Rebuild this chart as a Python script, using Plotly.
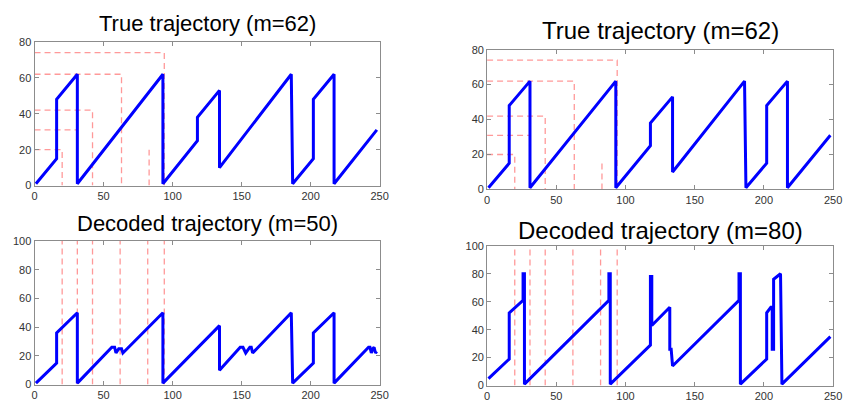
import plotly.graph_objects as go

# ---------------- data ----------------
# True trajectory (m=62), breakpoints (time, value)
true_t = [1, 16, 16, 31, 31, 93, 93, 118, 118, 134, 134, 186, 187, 202, 202, 217, 217, 248]
true_v = [1, 15, 48, 62, 1, 62, 1, 25, 38, 53, 10, 62, 1, 15, 48, 62, 1, 31]

# Decoded trajectory (m=50)
dec50_t = [1, 16, 16, 31, 31, 56, 58, 59, 61, 63, 64, 93, 93, 134, 134,
           149, 151, 153, 156, 157, 158, 186, 187, 202, 202, 217, 217,
           242, 243, 244, 245, 246, 247, 248]
dec50_v = [1, 15, 36, 50, 1, 26, 26, 22, 25, 25, 22, 50, 1, 41, 10,
           26, 26, 22, 26, 26, 22, 50, 1, 15, 36, 50, 1,
           26, 26, 22, 25, 26, 22, 23]

# Decoded trajectory (m=80)
dec80_t = [1, 16, 16, 26, 26, 27, 27, 88, 88, 89, 89, 118, 118, 119, 119, 132, 132,
           133, 134, 182, 182, 183, 183, 202, 202, 205, 206, 206, 207, 207, 212, 213, 248]
dec80_v = [5, 19, 52, 61, 80, 80, 1, 61, 80, 80, 1, 29, 78, 78, 43, 56, 26,
           26, 14, 61, 80, 80, 1, 19, 52, 56, 56, 26, 26, 76, 80, 1, 35]

# Threshold guides on the true-trajectory panels: level -> time where it ends
true_level_y = [20, 31, 42, 62, 74]
true_level_x = [20, 31, 42, 63, 94]
extra_guide_x = 83
extra_guide_top_left = 20
extra_guide_top_right = 17

# Segment boundaries on decoded panels
boundary_x = [20, 31, 42, 62, 82, 94]

x_ticks = [0, 50, 100, 150, 200, 250]
y_ticks_true = [0, 20, 40, 60, 80]
y_ticks_dec = [0, 20, 40, 60, 80, 100]

titles = ["True trajectory (m=62)", "True trajectory (m=62)",
          "Decoded trajectory (m=50)", "Decoded trajectory (m=80)"]

# ---------------- figure ----------------
W, H = 851, 410
BLUE = "#0000ff"
RED = "#ff9999"
GRID = "#8c8c8c"

def px_dom_x(a, b):
    return [a / W, b / W]

def px_dom_y(top, bottom):
    return [1 - bottom / H, 1 - top / H]

panels = [
    dict(x=px_dom_x(32, 382), y=px_dom_y(37, 185)),
    dict(x=px_dom_x(491, 842), y=px_dom_y(45, 189)),
    dict(x=px_dom_x(32, 382), y=px_dom_y(242, 390)),
    dict(x=px_dom_x(491, 842), y=px_dom_y(247, 391)),
]

fig = go.Figure()

def guide_traces_true(xa, ya, extra_top):
    xs, ys = [], []
    for ly, lx in zip(true_level_y, true_level_x):
        xs += [0, lx, lx, None]
        ys += [ly, ly, 0, None]
    xs += [extra_guide_x, extra_guide_x, None]
    ys += [0, extra_top, None]
    fig.add_trace(go.Scatter(x=xs, y=ys, mode="lines", xaxis=xa, yaxis=ya,
                             line=dict(color=RED, width=1.3, dash="6px,4px"),
                             hoverinfo="skip", showlegend=False))

def guide_traces_dec(xa, ya, top):
    xs, ys = [], []
    for bx in boundary_x:
        xs += [bx, bx, None]
        ys += [0, top, None]
    fig.add_trace(go.Scatter(x=xs, y=ys, mode="lines", xaxis=xa, yaxis=ya,
                             line=dict(color=RED, width=1.3, dash="6px,4px"),
                             hoverinfo="skip", showlegend=False))

def traj(xa, ya, t, v):
    fig.add_trace(go.Scatter(x=t, y=v, mode="lines", xaxis=xa, yaxis=ya,
                             line=dict(color=BLUE, width=3),
                             showlegend=False))

guide_traces_true("x", "y", extra_guide_top_left)
traj("x", "y", true_t, true_v)
guide_traces_true("x2", "y2", extra_guide_top_right)
traj("x2", "y2", true_t, true_v)
guide_traces_dec("x3", "y3", 100)
traj("x3", "y3", dec50_t, dec50_v)
guide_traces_dec("x4", "y4", 100)
traj("x4", "y4", dec80_t, dec80_v)

layout = dict(
    width=W, height=H,
    margin=dict(l=0, r=0, t=0, b=0),
    paper_bgcolor="white", plot_bgcolor="white",
    font=dict(family="Liberation Sans, Arial, sans-serif", size=11, color="#333333"),
)

axis_common = dict(showgrid=False, zeroline=False, showline=True, mirror="ticks",
                   linecolor=GRID, linewidth=1, ticks="inside", ticklen=4,
                   tickcolor=GRID, tickfont=dict(size=11, color="#333333"))

for i, p in enumerate(panels):
    n = "" if i == 0 else str(i + 1)
    yt = y_ticks_true if i < 2 else y_ticks_dec
    layout["xaxis" + n] = dict(domain=p["x"], anchor="y" + n, range=[0, 250],
                               tickvals=x_ticks, **axis_common)
    layout["yaxis" + n] = dict(domain=p["y"], anchor="x" + n, range=[0, yt[-1]],
                               tickvals=yt, **axis_common)

fig.update_layout(**layout)

title_pos = [(207, 18, 22), (667, 25, 24), (207, 224, 22), (667, 231, 24)]
for txt, (cx, cy, fs) in zip(titles, title_pos):
    fig.add_annotation(text=txt, x=cx / W, y=1 - cy / H, xref="paper", yref="paper",
                       xanchor="center", yanchor="middle", showarrow=False,
                       font=dict(size=fs, color="#000000",
                                 family="Liberation Sans, Arial, sans-serif"))

fig.write_html("out.html")
